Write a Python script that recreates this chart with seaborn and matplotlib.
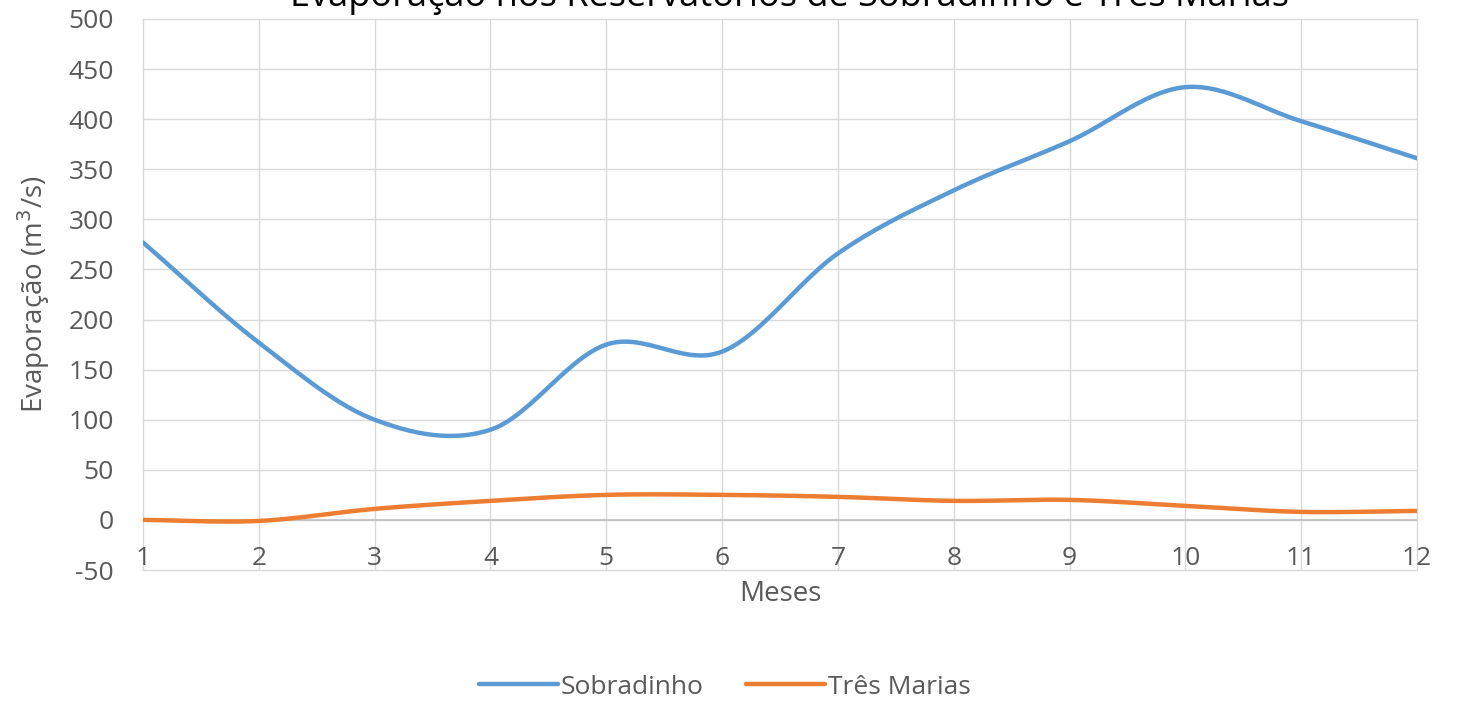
import numpy as np
import pandas as pd
import matplotlib
matplotlib.use("Agg")
import matplotlib.pyplot as plt
import seaborn as sns

# data
meses = [1, 2, 3, 4, 5, 6, 7, 8, 9, 10, 11, 12]
sobradinho = [277, 177, 100, 90, 175, 168, 266, 329, 378, 432, 398, 361]
tres_marias = [0, -1, 11, 19, 25, 25, 23, 19, 20, 14, 8, 9]
series_names = ["Sobradinho", "Três Marias"]
colors = ["#5B9BD5", "#ED7D31"]


def smooth(xs, ys, n=30):
    # Excel-style smoothed line (Catmull-Rom through the data points)
    xs = np.asarray(xs, float)
    ys = np.asarray(ys, float)
    px = np.concatenate([[2 * xs[0] - xs[1]], xs, [2 * xs[-1] - xs[-2]]])
    py = np.concatenate([[2 * ys[0] - ys[1]], ys, [2 * ys[-1] - ys[-2]]])
    outx, outy = [], []
    t = np.linspace(0, 1, n, endpoint=False)
    for i in range(1, len(px) - 2):
        for p, out in ((px, outx), (py, outy)):
            p0, p1, p2, p3 = p[i - 1], p[i], p[i + 1], p[i + 2]
            out.extend(0.5 * ((2 * p1) + (-p0 + p2) * t
                              + (2 * p0 - 5 * p1 + 4 * p2 - p3) * t ** 2
                              + (-p0 + 3 * p1 - 3 * p2 + p3) * t ** 3))
    outx.append(xs[-1])
    outy.append(ys[-1])
    return outx, outy


frames = []
for name, vals in zip(series_names, [sobradinho, tres_marias]):
    sx, sy = smooth(meses, vals)
    frames.append(pd.DataFrame({"Mês": sx, "Evaporação": sy, "Série": name}))
df = pd.concat(frames, ignore_index=True)

sns.set_theme(style="white")
plt.rcParams["font.family"] = ["Open Sans", "DejaVu Sans"]
plt.rcParams["axes.unicode_minus"] = False

fig = plt.figure(figsize=(14.65, 7.02), dpi=100)
ax = fig.add_axes([143 / 1465, 1 - 570 / 702, (1417 - 143) / 1465, (570 - 19) / 702])

sns.lineplot(data=df, x="Mês", y="Evaporação", hue="Série", palette=colors,
             linewidth=3.2, estimator=None, sort=False, ax=ax, legend=False)

ax.set_xlim(1, 12)
ax.set_ylim(-50, 500)
ax.set_xticks(meses)
ax.set_yticks(np.arange(-50, 501, 50))
ax.grid(True, color="#D9D9D9", linewidth=1)
for gl in ax.get_ygridlines() + ax.get_xgridlines():
    gl.set_clip_on(False)
ax.axhline(0, color="#BFBFBF", linewidth=1.2, zorder=1)
for s in ax.spines.values():
    s.set_visible(False)
ax.tick_params(axis="y", length=0, pad=21, labelsize=19, labelcolor="#595959")
ax.tick_params(axis="x", length=0, pad=-17, labelsize=19, labelcolor="#595959")
ax.set_xlabel("Meses", fontsize=20, color="#595959", labelpad=6)
ax.set_ylabel("Evaporação (m$^3$/s)", fontsize=20, color="#595959", labelpad=12)

fig.text(790 / 1465, 1 - 6 / 702, "Evaporação nos Reservatórios de Sobradinho e Três Marias",
         ha="center", va="baseline", fontsize=26, color="#000000")

handles = [plt.Line2D([], [], color=c, linewidth=3.2) for c in colors]
fig.legend(handles, series_names, loc="center", bbox_to_anchor=(725 / 1465, 1 - 687 / 702),
           ncol=2, frameon=False, fontsize=19, handlelength=3.0, columnspacing=1.6,
           handletextpad=0.1, labelcolor="#595959")

fig.savefig("out.png", dpi=100)
